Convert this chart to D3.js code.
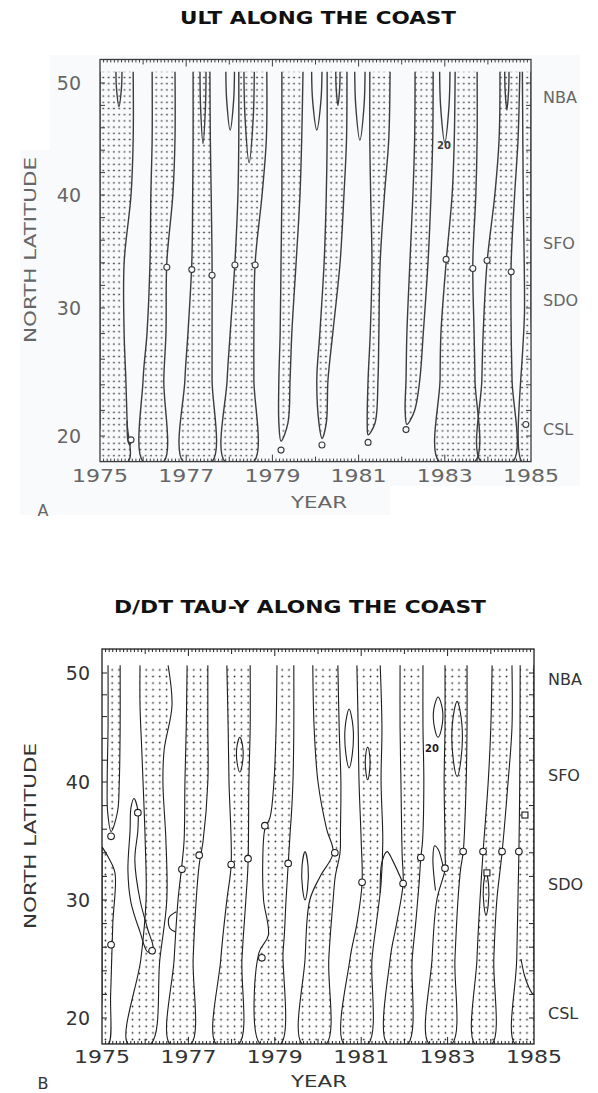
<!DOCTYPE html>
<html>
<head>
<meta charset="utf-8">
<script src="https://cdn.jsdelivr.net/npm/d3@7"></script>
<style>
  html, body { margin: 0; padding: 0; background: #fff; }
  svg { display: block; }
  text { font-family: "DejaVu Sans", sans-serif; }
</style>
</head>
<body>
<svg id="chart" width="598" height="1093"></svg>
<script>
"use strict";

// ---- values ----
const yearLabels = [1975, 1977, 1979, 1981, 1983, 1985];
const latLabels = [20, 30, 40, 50];
const stationNames = ["NBA", "SFO", "SDO", "CSL"];
const stationLatA = [48.7, 35.7, 30.7, 20.5];
const stationLatB = [49.4, 40.6, 31.3, 20.4];

// stippled bands: rows of [lat, west edge (year), east edge (year)], north to south
const bandsA = [
  [[51, 1975, 1975.77], [45, 1975, 1975.77], [40, 1975, 1975.72], [34, 1975, 1975.56], [28, 1975, 1975.56], [24.4, 1975, 1975.6], [21, 1975, 1975.63], [18, 1975, 1975.65]],
  [[51, 1976.21, 1976.74], [45, 1976.21, 1976.74], [40, 1976.18, 1976.69], [34, 1976.16, 1976.55], [28, 1976.09, 1976.53], [24.4, 1976.0, 1976.48], [18, 1976.0, 1976.48]],
  [[51, 1977.16, 1977.55], [45, 1977.16, 1977.56], [40, 1977.15, 1977.58], [34, 1977.13, 1977.6], [28, 1977.04, 1977.6], [24.4, 1976.97, 1977.6], [18, 1976.93, 1977.6]],
  [[51, 1978.22, 1978.87], [45, 1978.22, 1978.86], [40, 1978.2, 1978.76], [34, 1978.13, 1978.6], [28, 1978.02, 1978.57], [24.4, 1977.95, 1978.57], [18, 1977.9, 1978.57]],
  [[51, 1979.22, 1979.71], [45, 1979.22, 1979.68], [40, 1979.22, 1979.64], [34, 1979.2, 1979.55], [28, 1979.18, 1979.45], [24.4, 1979.15, 1979.41], [21, 1979.15, 1979.36], [19.6, 1979.2, 1979.2]],
  [[51, 1980.27, 1980.73], [45, 1980.27, 1980.72], [40, 1980.25, 1980.66], [34, 1980.2, 1980.57], [28, 1980.1, 1980.4], [24.4, 1980.03, 1980.29], [21, 1980.08, 1980.25], [19.8, 1980.15, 1980.15]],
  [[51, 1981.26, 1981.73], [45, 1981.26, 1981.7], [40, 1981.28, 1981.6], [34, 1981.31, 1981.5], [28, 1981.27, 1981.47], [24.4, 1981.22, 1981.45], [21, 1981.2, 1981.38], [20.1, 1981.22, 1981.22]],
  [[51, 1982.31, 1982.73], [45, 1982.3, 1982.72], [40, 1982.26, 1982.68], [34, 1982.19, 1982.61], [28, 1982.12, 1982.5], [24.4, 1982.1, 1982.42], [22, 1982.08, 1982.3], [20.9, 1982.12, 1982.12]],
  [[51, 1983.24, 1983.75], [45, 1983.22, 1983.75], [40, 1983.17, 1983.72], [34, 1983.03, 1983.65], [28, 1982.91, 1983.68], [24.4, 1982.89, 1983.7], [18, 1982.87, 1983.7]],
  [[51, 1984.28, 1984.74], [45, 1984.26, 1984.7], [40, 1984.16, 1984.62], [34, 1983.98, 1984.54], [28, 1983.89, 1984.54], [24.4, 1983.86, 1984.56], [18, 1983.84, 1984.58]],
  [[51, 1984.8, 1985], [40, 1984.82, 1985], [30, 1984.85, 1985], [18, 1984.79, 1985]]
];
// closed tongues hanging from the north edge: [year, half width (yr), tip lat]
const tonguesA = [
  [1975.44, 0.07, 47.9], [1977.39, 0.07, 44.6], [1978.02, 0.1, 45.8], [1978.46, 0.12, 42.9],
  [1980.03, 0.12, 45.8], [1980.52, 0.05, 48.0], [1981.03, 0.12, 44.9], [1983.0, 0.12, 44.7],
  [1984.44, 0.05, 47.6]
];
const hooksA = [
  [[1975.63, 21.2], [1975.65, 19.6], [1975.69, 19.3], [1975.72, 19.6]]
];
const circlesA = [
  [1975.72, 19.7], [1976.55, 33.6], [1977.13, 33.4], [1977.6, 32.9], [1978.13, 33.8],
  [1978.6, 33.8], [1979.2, 18.9], [1980.15, 19.3], [1981.22, 19.5], [1982.1, 20.5],
  [1983.03, 34.3], [1983.65, 33.5], [1983.98, 34.2], [1984.54, 33.2], [1984.88, 20.9]
];
const labelsA = [[1982.98, 44.4, "20"]];

const bandsB = [
  [[50.7, 1975.14, 1975.42], [45, 1975.14, 1975.42], [40, 1975.12, 1975.4], [37.5, 1975.13, 1975.36], [35.8, 1975.21, 1975.21]],
  [[34.5, 1975, 1975], [33.6, 1975, 1975.15], [32.3, 1975, 1975.3], [28, 1975, 1975.25], [22, 1975, 1975.2], [17.8, 1975, 1975.15]],
  [[50.7, 1975.88, 1976.53], [47, 1975.88, 1976.62], [43, 1975.92, 1976.44], [40, 1975.95, 1976.41], [35, 1976.0, 1976.48], [30, 1976.02, 1976.5], [25, 1975.9, 1976.34], [17.8, 1975.6, 1976.13]],
  [[50.7, 1976.97, 1977.45], [45, 1976.95, 1977.45], [40, 1976.92, 1977.45], [35, 1976.9, 1977.34], [33, 1976.85, 1977.25], [30, 1976.76, 1977.18], [25, 1976.67, 1977.11], [17.8, 1976.57, 1977.06]],
  [[50.7, 1977.89, 1978.43], [45, 1977.92, 1978.43], [40, 1977.94, 1978.4], [33, 1977.99, 1978.38], [30, 1977.89, 1978.33], [25, 1977.75, 1978.24], [17.8, 1977.64, 1978.17]],
  [[50.7, 1979.05, 1979.44], [45, 1979.03, 1979.44], [40, 1978.98, 1979.42], [37, 1978.89, 1979.38], [36, 1978.77, 1979.36], [33, 1978.72, 1979.31], [30, 1978.74, 1979.26], [27, 1978.85, 1979.22], [25.5, 1978.63, 1979.19], [17.8, 1978.66, 1979.14]],
  [[50.7, 1979.88, 1980.46], [45, 1979.91, 1980.49], [40, 1980.0, 1980.53], [36, 1980.2, 1980.52], [34, 1980.35, 1980.51], [32, 1980.05, 1980.4], [30, 1979.81, 1980.35], [25, 1979.7, 1980.25], [17.8, 1979.63, 1980.19]],
  [[50.7, 1980.9, 1981.44], [45, 1980.93, 1981.48], [40, 1980.95, 1981.46], [35, 1981.0, 1981.5], [31.4, 1981.02, 1981.46], [28, 1980.9, 1981.35], [25, 1980.74, 1981.25], [17.8, 1980.6, 1981.16]],
  [[50.7, 1981.9, 1982.43], [45, 1981.9, 1982.43], [40, 1981.92, 1982.45], [35, 1981.94, 1982.42], [33.6, 1981.95, 1982.38], [31.4, 1981.97, 1982.34], [28, 1981.82, 1982.26], [25, 1981.67, 1982.18], [17.8, 1981.6, 1982.08]],
  [[50.7, 1982.94, 1983.45], [45, 1982.94, 1983.45], [40, 1982.92, 1983.43], [35, 1982.94, 1983.38], [34, 1982.94, 1983.36], [32.6, 1982.94, 1983.3], [30, 1982.75, 1983.24], [25, 1982.64, 1983.17], [17.8, 1982.57, 1983.1]],
  [[50.7, 1984.03, 1984.49], [45, 1984.0, 1984.49], [40, 1983.94, 1984.4], [34, 1983.82, 1984.26], [30, 1983.75, 1984.14], [25, 1983.68, 1984.07], [17.8, 1983.63, 1984.03]],
  [[50.7, 1984.68, 1985], [40, 1984.67, 1985], [34, 1984.65, 1985], [25, 1984.6, 1985], [17.8, 1984.56, 1985]]
];
// small closed contours: [year, half width (yr), north lat, south lat]
const ovalsB = [
  [1978.19, 0.07, 44.1, 40.9], [1980.72, 0.09, 46.7, 41.3], [1981.15, 0.05, 43.2, 40.2],
  [1982.78, 0.1, 47.8, 44.1], [1983.22, 0.11, 47.4, 40.5], [1983.89, 0.06, 32.3, 28.7],
  [1979.7, 0.07, 34.1, 30.0]
];
const shapesB = [
  [[1975.74, 38.6], [1975.83, 37.6], [1975.83, 35.9], [1975.76, 33.4], [1975.88, 30.0], [1976.06, 27.5],
   [1976.18, 25.9], [1976.06, 25.6], [1975.88, 27.3], [1975.67, 29.8], [1975.6, 32.5], [1975.65, 35.9], [1975.67, 37.8]]
];
const archesB = [
  [[1981.44, 30.6], [1981.48, 33.2], [1981.6, 34.1], [1981.72, 33.4], [1981.97, 31.4]],
  [[1982.72, 30.8], [1982.66, 33.5], [1982.7, 34.6], [1982.78, 34.3], [1982.9, 32.8]],
  [[1976.72, 29.0], [1976.55, 28.5], [1976.57, 27.6], [1976.7, 27.3]],
  [[1984.7, 25.0], [1984.78, 23.6], [1984.88, 22.6], [1984.97, 22.0]]
];
const circlesB = [
  [1975.21, 35.4], [1975.83, 37.4], [1976.16, 25.7], [1975.21, 26.2], [1976.85, 32.6],
  [1977.25, 33.8], [1977.99, 33.0], [1978.38, 33.5], [1978.77, 36.3], [1979.31, 33.1],
  [1980.39, 34.0], [1981.02, 31.5], [1981.97, 31.4], [1982.38, 33.6], [1982.94, 32.7],
  [1983.36, 34.1], [1983.82, 34.1], [1984.26, 34.1], [1984.65, 34.1], [1978.7, 25.1]
];
const squaresB = [[1983.91, 32.3], [1984.79, 37.2]];
const labelsB = [[1982.64, 43.1, "20"]];

// ---- layout ----
const panels = [
  {
    id: "A", title: "ULT ALONG THE COAST", titleX: 318, titleY: 18, titleLen: 276,
    left: 100, right: 531, latY: [436, 308, 195, 83], latMin: 18, latMax: 52.1, latTop: 51,
    latLabelX: 81, stationX: 543, stationLat: stationLatA, yearY: 476, yearTitleY: 503,
    axisTitleY: 250, letterY: 510,
    bands: bandsA, tongues: tonguesA, ovals: [], shapes: [], arches: hooksA,
    circles: circlesA, squares: [], labels: labelsA,
    ink: "#3c3c3c", text: "#666", lw: 1.4, r: 3, pattern: "dotsA", bg: "#f8fafb"
  },
  {
    id: "B", title: "D/DT TAU-Y ALONG THE COAST", titleX: 300, titleY: 607, titleLen: 372,
    left: 102, right: 534, latY: [1018, 900, 782, 673], latMin: 17.8, latMax: 52.2, latTop: 50.7,
    latLabelX: 90, stationX: 548, stationLat: stationLatB, yearY: 1057, yearTitleY: 1082,
    axisTitleY: 836, letterY: 1083,
    bands: bandsB, tongues: [], ovals: ovalsB, shapes: shapesB, arches: archesB,
    circles: circlesB, squares: squaresB, labels: labelsB,
    ink: "#1e1e1e", text: "#333", lw: 1.1, r: 3.3, pattern: "dotsB", bg: "#fff"
  }
];

const svg = d3.select("#chart");
const defs = svg.append("defs");

const patA = defs.append("pattern").attr("id", "dotsA")
  .attr("patternUnits", "userSpaceOnUse").attr("width", 5.3).attr("height", 6.2);
patA.append("rect").attr("x", 1.6).attr("y", 2.4).attr("width", 2).attr("height", 1.4).attr("fill", "#5c5c5c");

const patB = defs.append("pattern").attr("id", "dotsB")
  .attr("patternUnits", "userSpaceOnUse").attr("width", 6.8).attr("height", 6.6);
patB.append("circle").attr("cx", 3.4).attr("cy", 3.3).attr("r", 0.85).attr("fill", "#222");

// faint scan tint behind the upper figure
svg.append("g").selectAll("rect")
  .data([[50, 55, 530, 431], [20, 150, 30, 365], [30, 486, 360, 29]])
  .join("rect")
    .attr("x", d => d[0]).attr("y", d => d[1]).attr("width", d => d[2]).attr("height", d => d[3])
    .attr("fill", "#f8fafb");

function outline(band) {
  const west = band.map(r => [r[1], r[0]]);
  const east = band.map(r => [r[2], r[0]]).reverse();
  if (east[0][0] === west[west.length - 1][0]) east.shift();
  return west.concat(east);
}

function ovalPoints(o) {
  const [c, hw, n, s] = o;
  const h = n - s;
  return [[c, n], [c + hw, n - h * 0.3], [c + hw * 0.8, s + h * 0.22], [c, s],
          [c - hw * 0.8, s + h * 0.22], [c - hw, n - h * 0.3]];
}

function tonguePoints(t, top) {
  const [c, hw, tip] = t;
  const mid = (top + tip) / 2;
  return [[c - hw, top], [c - hw * 0.8, mid], [c, tip], [c + hw * 0.8, mid], [c + hw, top]];
}

function drawPanel(p) {
  const x = d3.scaleLinear().domain([1975, 1985]).range([p.left, p.right]);
  const y = d3.scaleLinear().domain(latLabels).range(p.latY);
  const top = y(p.latMax), bottom = y(p.latMin);
  const g = svg.append("g");

  defs.append("clipPath").attr("id", "clip" + p.id)
    .append("rect")
      .attr("x", p.left).attr("y", top)
      .attr("width", p.right - p.left).attr("height", bottom - top);

  const inner = g.append("g").attr("clip-path", `url(#clip${p.id})`);
  const line = d3.line().x(d => x(d[0])).y(d => y(d[1])).curve(d3.curveCatmullRom.alpha(0.5));
  const loop = d3.line().x(d => x(d[0])).y(d => y(d[1])).curve(d3.curveCatmullRomClosed.alpha(0.5));

  inner.selectAll("path.band")
    .data(p.bands)
    .join("path")
      .attr("class", "band")
      .attr("d", b => line(outline(b)) + "Z")
      .attr("fill", `url(#${p.pattern})`);

  inner.selectAll("path.edge")
    .data(p.bands)
    .join("path")
      .attr("class", "edge")
      .attr("d", b => line(outline(b)))
      .attr("fill", "none")
      .attr("stroke", p.ink)
      .attr("stroke-width", p.lw)
      .attr("stroke-linejoin", "round");

  inner.selectAll("path.tongue")
    .data(p.tongues)
    .join("path")
      .attr("class", "tongue")
      .attr("d", t => line(tonguePoints(t, p.latTop)))
      .attr("fill", "none").attr("stroke", p.ink).attr("stroke-width", p.lw);

  inner.selectAll("path.oval")
    .data(p.ovals.map(ovalPoints).concat(p.shapes))
    .join("path")
      .attr("class", "oval")
      .attr("d", loop)
      .attr("fill", "none").attr("stroke", p.ink).attr("stroke-width", p.lw);

  inner.selectAll("path.arch")
    .data(p.arches)
    .join("path")
      .attr("class", "arch")
      .attr("d", line)
      .attr("fill", "none").attr("stroke", p.ink).attr("stroke-width", p.lw);

  inner.selectAll("circle.mark")
    .data(p.circles)
    .join("circle")
      .attr("class", "mark")
      .attr("cx", d => x(d[0])).attr("cy", d => y(d[1])).attr("r", p.r)
      .attr("fill", p.bg).attr("stroke", p.ink).attr("stroke-width", 1.1);

  inner.selectAll("rect.mark")
    .data(p.squares)
    .join("rect")
      .attr("class", "mark")
      .attr("x", d => x(d[0]) - 3).attr("y", d => y(d[1]) - 3)
      .attr("width", 6).attr("height", 6)
      .attr("fill", "#fff").attr("stroke", p.ink).attr("stroke-width", 1.1);

  inner.selectAll("text.clabel")
    .data(p.labels)
    .join("text")
      .attr("class", "clabel")
      .attr("x", d => x(d[0])).attr("y", d => y(d[1]))
      .attr("text-anchor", "middle").attr("dominant-baseline", "central")
      .attr("font-size", 10).attr("font-weight", "bold").attr("fill", p.ink)
      .text(d => d[2]);

  // frame
  g.append("rect")
    .attr("x", p.left).attr("y", top)
    .attr("width", p.right - p.left).attr("height", bottom - top)
    .attr("fill", "none").attr("stroke", p.ink).attr("stroke-width", 1.3);

  // month ticks on top and bottom edges, longer every year and every second year
  const months = d3.range(1, 120);
  const tickLen = i => (i % 24 === 0 ? 7 : i % 12 === 0 ? 5 : 3);
  g.selectAll("line.ttop")
    .data(months)
    .join("line")
      .attr("class", "ttop")
      .attr("x1", i => x(1975 + i / 12)).attr("x2", i => x(1975 + i / 12))
      .attr("y1", top).attr("y2", i => top + tickLen(i))
      .attr("stroke", p.ink).attr("stroke-width", 1);
  g.selectAll("line.tbot")
    .data(months)
    .join("line")
      .attr("class", "tbot")
      .attr("x1", i => x(1975 + i / 12)).attr("x2", i => x(1975 + i / 12))
      .attr("y1", bottom).attr("y2", i => bottom - tickLen(i))
      .attr("stroke", p.ink).attr("stroke-width", 1);

  // latitude ticks every 2 degrees on both sides
  const lats = d3.range(20, 52, 2);
  g.selectAll("line.tleft")
    .data(lats)
    .join("line")
      .attr("class", "tleft")
      .attr("x1", p.left).attr("x2", p.left + 5)
      .attr("y1", d => y(d)).attr("y2", d => y(d))
      .attr("stroke", p.ink).attr("stroke-width", 1);
  g.selectAll("line.tright")
    .data(lats)
    .join("line")
      .attr("class", "tright")
      .attr("x1", p.right).attr("x2", p.right - 5)
      .attr("y1", d => y(d)).attr("y2", d => y(d))
      .attr("stroke", p.ink).attr("stroke-width", 1);

  // labels
  g.selectAll("text.lat")
    .data(latLabels)
    .join("text")
      .attr("class", "lat")
      .attr("x", p.latLabelX).attr("y", d => y(d))
      .attr("text-anchor", "end").attr("dominant-baseline", "central")
      .attr("font-size", 19).attr("fill", p.text)
      .text(d => d);

  g.selectAll("text.year")
    .data(yearLabels)
    .join("text")
      .attr("class", "year")
      .attr("x", d => x(d)).attr("y", p.yearY)
      .attr("text-anchor", "middle").attr("dominant-baseline", "central")
      .attr("font-size", 17).attr("fill", p.text)
      .attr("textLength", 56).attr("lengthAdjust", "spacingAndGlyphs")
      .text(d => d);

  g.selectAll("text.station")
    .data(stationNames)
    .join("text")
      .attr("class", "station")
      .attr("x", p.stationX).attr("y", (d, i) => y(p.stationLat[i]))
      .attr("dominant-baseline", "central")
      .attr("font-size", 16).attr("fill", p.text)
      .text(d => d);

  g.append("text")
    .attr("x", p.titleX).attr("y", p.titleY)
    .attr("text-anchor", "middle").attr("dominant-baseline", "central")
    .attr("font-size", 17).attr("font-weight", "bold").attr("fill", "#111")
    .attr("textLength", p.titleLen).attr("lengthAdjust", "spacingAndGlyphs")
    .text(p.title);

  g.append("text")
    .attr("transform", `translate(30,${p.axisTitleY}) rotate(-90)`)
    .attr("text-anchor", "middle").attr("dominant-baseline", "central")
    .attr("font-size", 16).attr("fill", p.text)
    .attr("textLength", 186).attr("lengthAdjust", "spacingAndGlyphs")
    .text("NORTH LATITUDE");

  g.append("text")
    .attr("x", 319).attr("y", p.yearTitleY)
    .attr("text-anchor", "middle").attr("dominant-baseline", "central")
    .attr("font-size", 15).attr("fill", p.text)
    .attr("textLength", 56).attr("lengthAdjust", "spacingAndGlyphs")
    .text("YEAR");

  g.append("text")
    .attr("x", 43).attr("y", p.letterY)
    .attr("text-anchor", "middle").attr("dominant-baseline", "central")
    .attr("font-size", 16).attr("fill", p.text)
    .text(p.id);
}

panels.forEach(drawPanel);
</script>
</body>
</html>
